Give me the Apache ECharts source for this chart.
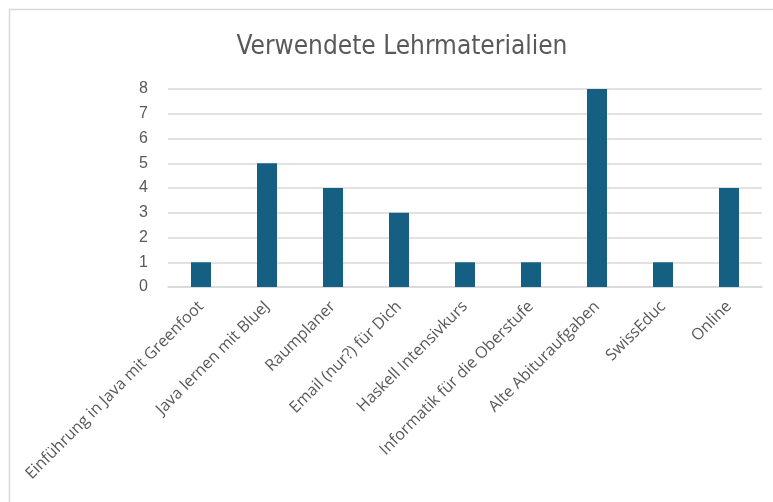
<!DOCTYPE html>
<html>
<head>
<meta charset="utf-8">
<script src="https://cdn.jsdelivr.net/npm/echarts@6/dist/echarts.min.js"></script>
<style>
  html, body { margin: 0; padding: 0; background: #fff; }
  #chart { width: 773px; height: 502px; }
</style>
</head>
<body>
<div id="chart"></div>
<script>
// chart data
const titleText = 'Verwendete Lehrmaterialien'
const categories = [
    'Einführung in Java mit Greenfoot',
    'Java lernen mit BlueJ',
    'Raumplaner',
    'Email (nur?) für Dich',
    'Haskell Intensivkurs',
    'Informatik für die Oberstufe',
    'Alte Abituraufgaben',
    'SwissEduc',
    'Online'
]
const counts = [1, 5, 4, 3, 1, 1, 8, 1, 4]

const textColor = '#595959'
const chart = echarts.init(document.getElementById('chart'), null, { renderer: 'canvas' })

chart.setOption({
    animation: false,
    title: {
        text: titleText,
        left: 397,
        top: 29,
        textAlign: 'center',
        textStyle: {
            fontFamily: '"Liberation Sans Narrow", "DejaVu Sans Condensed", "Roboto Condensed", sans-serif',
            fontSize: 26,
            fontWeight: 'normal',
            color: textColor
        }
    },
    // outer chart frame
    graphic: [{
        type: 'rect',
        shape: { x: 9.5, y: 9.5, width: 820, height: 600 },
        style: { fill: 'none', stroke: '#d9d9d9', lineWidth: 1.5 },
        silent: true
    }],
    grid: {
        left: 168,
        right: 11,
        top: 89,
        bottom: 215,
        containLabel: false
    },
    xAxis: {
        type: 'category',
        data: categories,
        axisLine: { lineStyle: { color: '#d9d9d9', width: 1.5 } },
        axisTick: { show: false },
        axisLabel: {
            rotate: 45,
            interval: 0,
            margin: 17,
            color: textColor,
            fontSize: 16,
            fontFamily: '"Open Sans", "Noto Sans", sans-serif'
        }
    },
    yAxis: {
        type: 'value',
        min: 0,
        max: 8,
        interval: 1,
        axisLine: { show: false },
        axisTick: { show: false },
        splitLine: { lineStyle: { color: '#d9d9d9', width: 1.5 } },
        axisLabel: {
            margin: 20,
            color: textColor,
            fontSize: 16,
            fontFamily: '"Liberation Sans", Arial, sans-serif'
        }
    },
    series: [{
        type: 'bar',
        data: counts,
        barWidth: 20,
        itemStyle: { color: '#156082' }
    }]
})
</script>
</body>
</html>
